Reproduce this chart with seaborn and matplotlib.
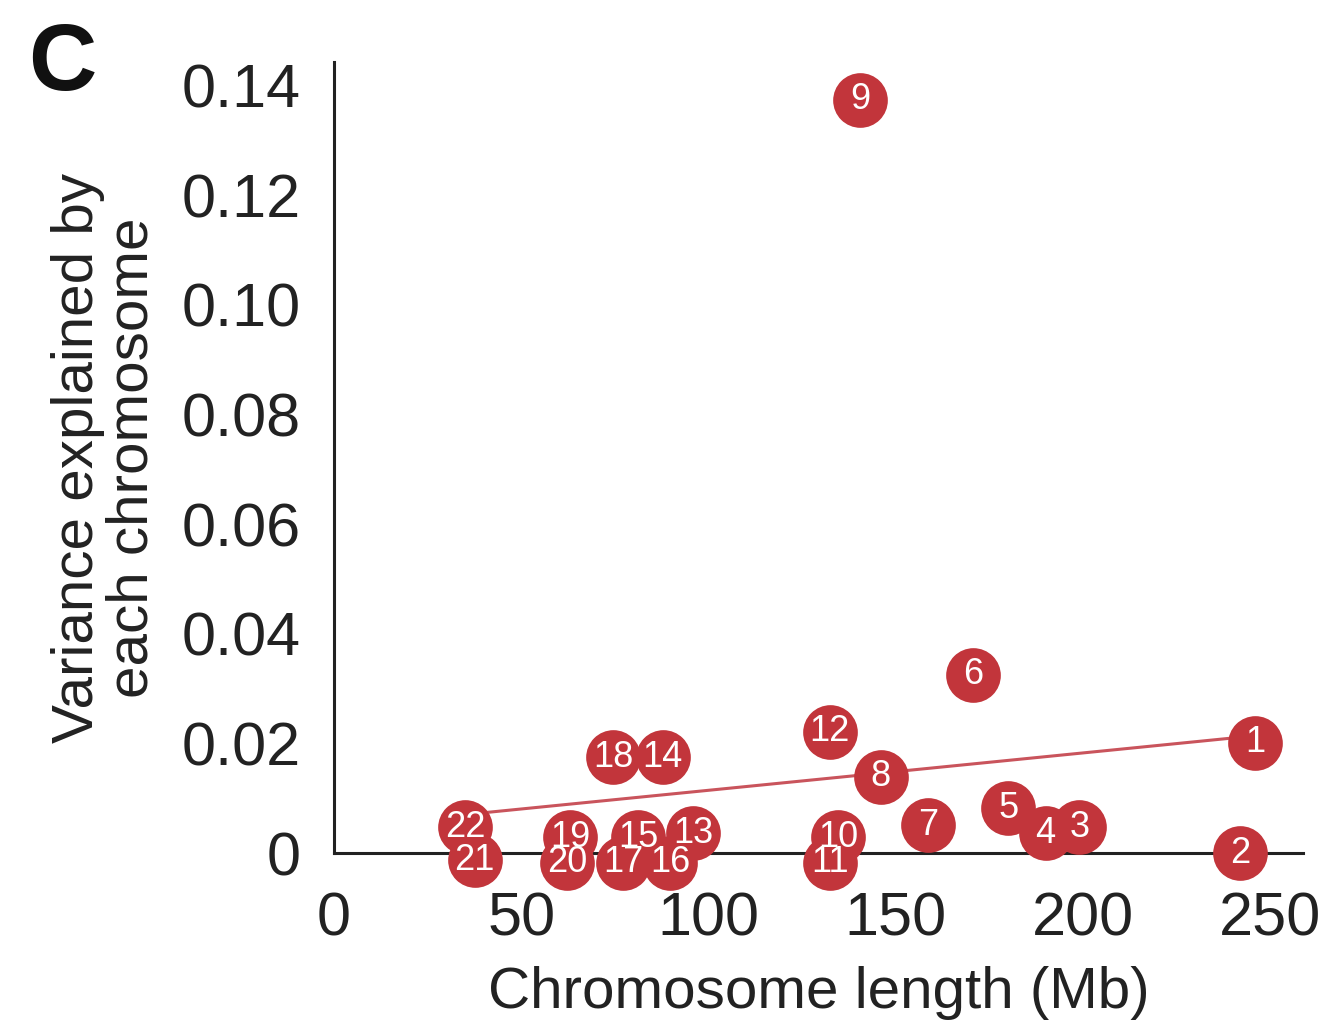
import numpy as np
import pandas as pd
import matplotlib
matplotlib.use('Agg')
import matplotlib.pyplot as plt
import seaborn as sns

# chromosome number, length (Mb) and variance explained
chrom = [1, 2, 3, 4, 5, 6, 7, 8, 9, 10, 11,
         12, 13, 14, 15, 16, 17, 18, 19, 20, 21, 22]
length_mb = [246.0, 242.0, 199.0, 190.0, 180.0, 170.6, 158.6, 146.0, 140.5, 134.6, 132.4,
             132.4, 95.9, 87.8, 81.2, 89.7, 77.2, 74.5, 63.0, 62.2, 37.6, 35.0]
var_expl = [0.0201, 0.0000, 0.0047, 0.0036, 0.0082, 0.0325, 0.0051, 0.0139, 0.1374, 0.0029, -0.0018,
            0.0221, 0.0036, 0.0175, 0.0029, -0.0018, -0.0018, 0.0175, 0.0029, -0.0018, -0.0013, 0.0047]

x_ticks = [0, 50, 100, 150, 200, 250]
y_ticks = [0, 0.02, 0.04, 0.06, 0.08, 0.10, 0.12, 0.14]
y_ticklabels = ['0', '0.02', '0.04', '0.06', '0.08', '0.10', '0.12', '0.14']

df = pd.DataFrame({'chrom': chrom, 'length': length_mb, 'var': var_expl})

sns.set_style('white')
plt.rcParams['font.family'] = ['Liberation Sans', 'DejaVu Sans']

dot = '#c2353b'

fig = plt.figure(figsize=(13.21, 10.36), dpi=100)
ax = fig.add_axes([0.2528, 0.1766, 0.7336, 0.7636])

sns.regplot(data=df, x='length', y='var', ax=ax, ci=None,
            scatter_kws={'s': 1550, 'color': dot, 'alpha': 1, 'zorder': 3,
                         'clip_on': False, 'linewidths': 0},
            line_kws={'color': '#c9545c', 'lw': 2.2, 'zorder': 2})

# chromosome numbers inside the dots
for c, xv, yv in zip(df['chrom'], df['length'], df['var']):
    ax.text(xv, yv, str(c), color='white', fontsize=26, ha='center', va='center',
            zorder=4, clip_on=False)

ax.set_xlim(0, 258.7)
ax.set_ylim(0, 0.1443)
ax.set_xticks(x_ticks)
ax.set_yticks(y_ticks)
ax.set_yticklabels(y_ticklabels)
ax.tick_params(axis='both', labelsize=44, length=10, width=2, color='#222222',
               labelcolor='#222222', direction='out', pad=14)
ax.tick_params(axis='x', pad=18)
for s in ['top', 'right']:
    ax.spines[s].set_visible(False)
for s in ['left', 'bottom']:
    ax.spines[s].set_linewidth(2.2)
    ax.spines[s].set_color('#222222')

ax.set_xlabel('Chromosome length (Mb)', fontsize=42, color='#222222', labelpad=12)
ax.set_ylabel('Variance explained by\neach chromosome', fontsize=42, color='#222222',
              labelpad=16, linespacing=1.0)

fig.text(0.021, 0.913, 'C', fontsize=68, fontweight='bold', color='#111111',
         ha='left', va='baseline')

fig.savefig('out.png', dpi=100)
